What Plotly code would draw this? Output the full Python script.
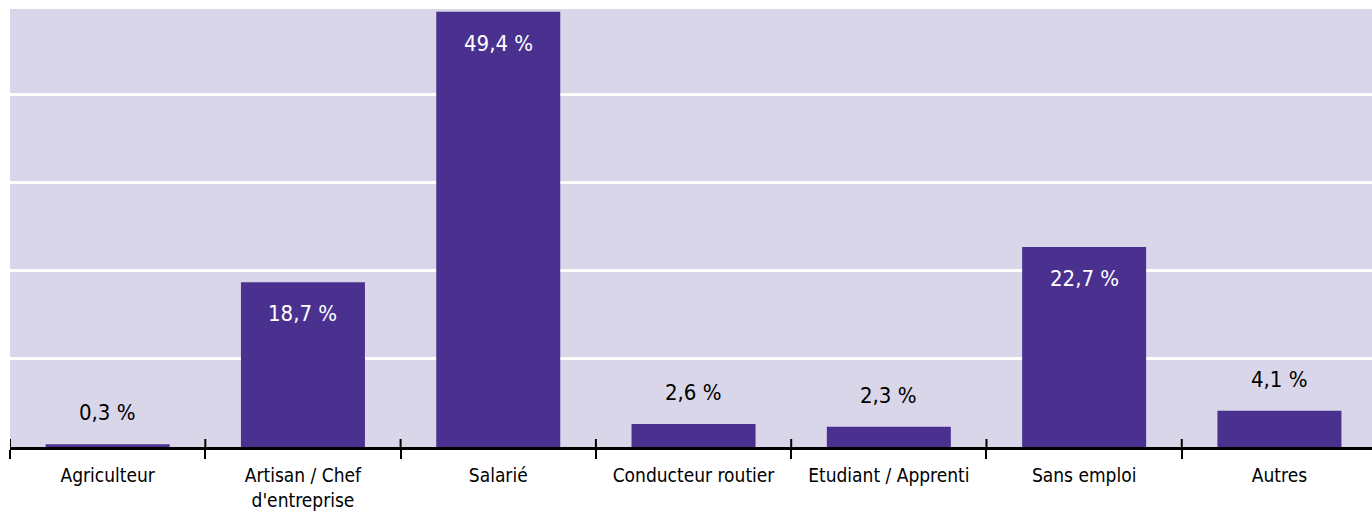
import plotly.graph_objects as go

categories = ["Agriculteur", "Artisan / Chef<br>d'entreprise", "Salarié", "Conducteur routier",
              "Etudiant / Apprenti", "Sans emploi", "Autres"]
values = [0.3, 18.7, 49.4, 2.6, 2.3, 22.7, 4.1]
labels = ["0,3 %", "18,7 %", "49,4 %", "2,6 %", "2,3 %", "22,7 %", "4,1 %"]
inside = [False, True, True, False, False, True, False]

FONT = "DejaVu Sans Condensed, Liberation Sans Narrow, sans-serif"
BAR = "#4a318f"
BG = "#dad6ea"

fig = go.Figure(go.Bar(
    x=categories,
    y=values,
    marker=dict(color=BAR, line=dict(width=0)),
    width=0.635,
    hoverinfo="skip",
))

for cat, v, lab, ins in zip(categories, values, labels, inside):
    fig.add_annotation(
        x=cat, y=v, text=lab, showarrow=False,
        yanchor="top" if ins else "bottom",
        yshift=-17 if ins else 17,
        font=dict(family=FONT, size=22, color="white" if ins else "black"),
    )

# tick marks crossing the axis line at category boundaries (upper half)
for i in range(len(categories)):
    fig.add_shape(
        type="line", xref="x", yref="paper",
        x0=i - 0.5, x1=i - 0.5,
        ysizemode="pixel", yanchor=0, y0=0, y1=8,
        line=dict(color="black", width=2),
    )

fig.update_layout(
    width=1372, height=516,
    paper_bgcolor="white",
    plot_bgcolor=BG,
    margin=dict(l=10, r=0, t=9, b=69),
    showlegend=False,
    bargap=0.365,
    font=dict(family=FONT, size=19, color="black"),
    xaxis=dict(
        type="category",
        range=[-0.5, 6.474],
        showgrid=False,
        showline=True, linecolor="black", linewidth=3,
        ticks="outside", tickson="boundaries", ticklen=9, tickwidth=2, tickcolor="black",
        ticklabelstandoff=9,
        tickfont=dict(family=FONT, size=19, color="black"),
        zeroline=False,
    ),
    yaxis=dict(
        range=[0, 49.7],
        dtick=10,
        showgrid=True, gridcolor="white", gridwidth=2.5,
        showticklabels=False, zeroline=False, showline=False,
    ),
)

fig.write_html("out.html", config={"displayModeBar": False},
               post_script="document.body.style.margin='0';")
